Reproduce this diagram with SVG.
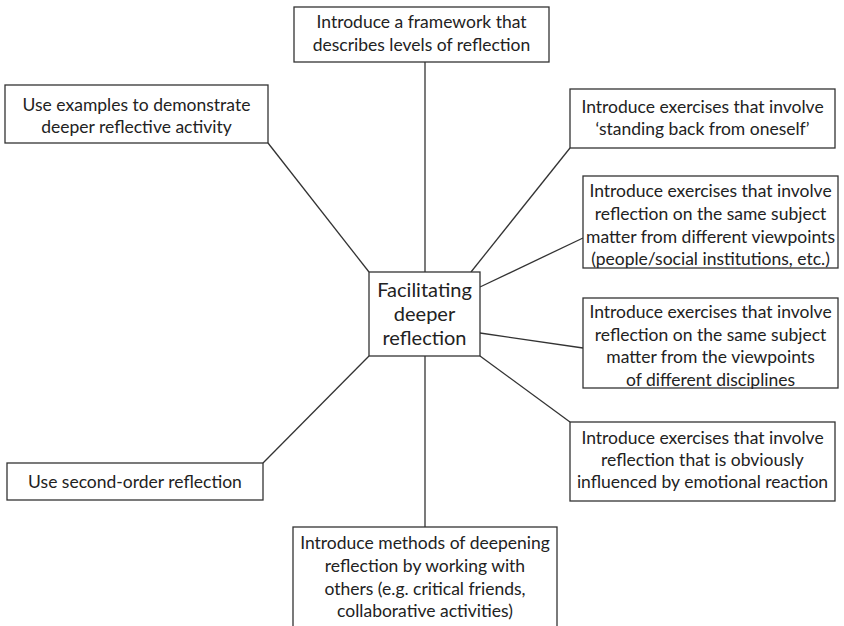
<svg xmlns="http://www.w3.org/2000/svg" width="844" height="626" viewBox="0 0 844 626">
<style>
.box{fill:#fff;stroke:#333;stroke-width:1.3}
.t{font-family:Lato,"Open Sans",sans-serif;font-size:17.5px;fill:#222;text-anchor:middle}
.c{font-size:20px}
.ln{stroke:#333;stroke-width:1.3;fill:none}
</style>
<rect width="844" height="626" fill="#fff"/>
<g id="connectors">
<line class="ln" x1="425" y1="62" x2="425" y2="272"/>
<line class="ln" x1="268" y1="143" x2="369" y2="272"/>
<line class="ln" x1="570" y1="148" x2="471" y2="272"/>
<line class="ln" x1="480" y1="287" x2="583" y2="238"/>
<line class="ln" x1="480" y1="333" x2="583" y2="348"/>
<line class="ln" x1="570" y1="422" x2="480" y2="356"/>
<line class="ln" x1="263" y1="463" x2="369" y2="356"/>
<line class="ln" x1="425" y1="356" x2="425" y2="527"/>
</g>
<g id="center">
<rect class="box" x="369" y="272" width="111" height="84"/>
<text class="t c" x="424.5" y="297">Facilitating</text>
<text class="t c" x="424.5" y="321">deeper</text>
<text class="t c" x="424.5" y="345">reflection</text>
</g>
<g id="n1">
<rect class="box" x="294" y="7" width="255" height="55"/>
<text class="t" x="421.5" y="28">Introduce a framework that</text>
<text class="t" x="421.5" y="51">describes levels of reflection</text>
</g>
<g id="n2">
<rect class="box" x="5" y="85" width="263" height="58"/>
<text class="t" x="136.5" y="111">Use examples to demonstrate</text>
<text class="t" x="136.5" y="133">deeper reflective activity</text>
</g>
<g id="n3">
<rect class="box" x="570" y="89" width="265" height="59"/>
<text class="t" x="702.5" y="113">Introduce exercises that involve</text>
<text class="t" x="702.5" y="135">‘standing back from oneself’</text>
</g>
<g id="n4">
<rect class="box" x="583" y="176" width="255" height="92"/>
<text class="t" x="710.5" y="197">Introduce exercises that involve</text>
<text class="t" x="710.5" y="220">reflection on the same subject</text>
<text class="t" x="710.5" y="243">matter from different viewpoints</text>
<text class="t" x="710.5" y="265">(people/social institutions, etc.)</text>
</g>
<g id="n5">
<rect class="box" x="583" y="298" width="255" height="90"/>
<text class="t" x="710.5" y="318">Introduce exercises that involve</text>
<text class="t" x="710.5" y="341">reflection on the same subject</text>
<text class="t" x="710.5" y="363">matter from the viewpoints</text>
<text class="t" x="710.5" y="386">of different disciplines</text>
</g>
<g id="n6">
<rect class="box" x="570" y="422" width="265" height="79"/>
<text class="t" x="702.5" y="444">Introduce exercises that involve</text>
<text class="t" x="702.5" y="466">reflection that is obviously</text>
<text class="t" x="702.5" y="488">influenced by emotional reaction</text>
</g>
<g id="n7">
<rect class="box" x="7" y="463" width="256" height="37"/>
<text class="t" x="135" y="488">Use second-order reflection</text>
</g>
<g id="n8">
<rect class="box" x="293" y="527" width="264" height="120"/>
<text class="t" x="425" y="549">Introduce methods of deepening</text>
<text class="t" x="425" y="572">reflection by working with</text>
<text class="t" x="425" y="595">others (e.g. critical friends,</text>
<text class="t" x="425" y="617">collaborative activities)</text>
</g>
</svg>
